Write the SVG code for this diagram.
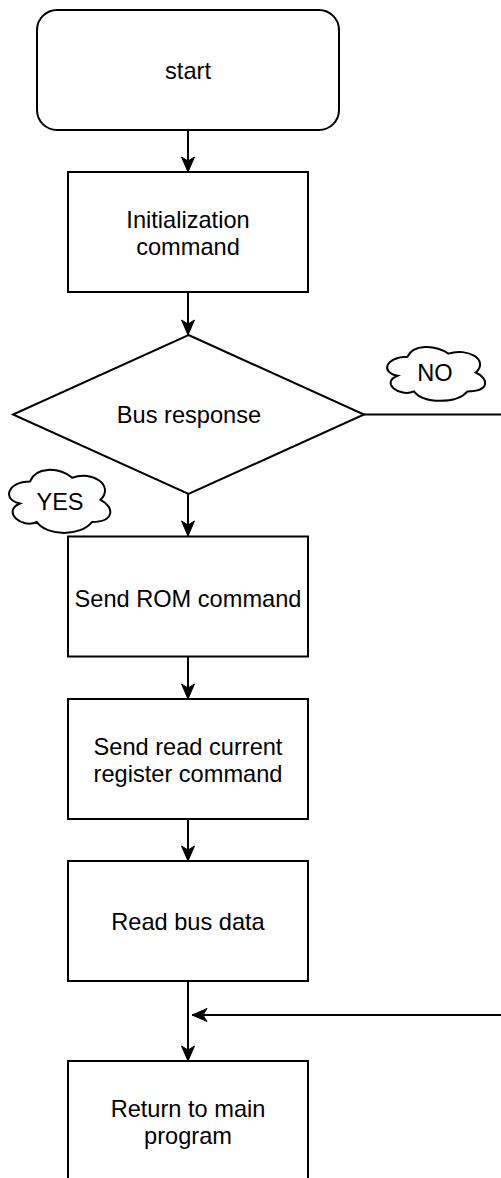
<svg xmlns="http://www.w3.org/2000/svg" width="501" height="1178" viewBox="0 0 501 1178">
<style>
.box{fill:#fff;stroke:#000;stroke-width:2}
.cloud{fill:#fff;stroke:#000;stroke-width:2}
.lbl{font-family:"Liberation Sans",Arial,sans-serif;font-size:23.6px;fill:#000;text-anchor:middle}
.edge{fill:none;stroke:#000;stroke-width:2}
</style>
<defs>
<marker id="arrow" markerUnits="userSpaceOnUse" viewBox="-16 -8 17 16" markerWidth="17" markerHeight="16" refX="0" refY="0" orient="auto">
<path d="M0,0 L-15,-6.5 L-11,0 L-15,6.5 Z" fill="#000" stroke="#000" stroke-width="1" stroke-linejoin="miter"/>
</marker>
<path id="cloudShape" d="M0.25,0.25 C0.05,0.25 0,0.5 0.16,0.55 C0,0.66 0.18,0.9 0.31,0.8 C0.4,1 0.7,1 0.8,0.8 C1,0.8 1,0.6 0.875,0.5 C1,0.3 0.8,0.1 0.625,0.2 C0.5,0.05 0.3,0.05 0.25,0.25 Z"/>
</defs>
<g id="connectors">
<path class="edge" d="M188,130 V172" marker-end="url(#arrow)"/>
<path class="edge" d="M188,292 V335" marker-end="url(#arrow)"/>
<path class="edge" d="M188,494 V536" marker-end="url(#arrow)"/>
<path class="edge" d="M188,656 V699" marker-end="url(#arrow)"/>
<path class="edge" d="M188,819 V861" marker-end="url(#arrow)"/>
<path class="edge" d="M188,981 V1061" marker-end="url(#arrow)"/>
<path class="edge" d="M364,414.5 H530 V1015 H192" marker-end="url(#arrow)"/>
</g>
<g id="start">
<rect class="box" x="37" y="10" width="302" height="120" rx="20" ry="20"/>
<text class="lbl" x="188" y="78.5">start</text>
</g>
<g id="init">
<rect class="box" x="68" y="172" width="240" height="120"/>
<text class="lbl" x="188" y="228">Initialization</text>
<text class="lbl" x="188" y="255">command</text>
</g>
<g id="bus-response">
<path class="box" d="M188.5,335 L364,414.5 L188.5,494 L13,414.5 Z"/>
<text class="lbl" x="189" y="422.5">Bus response</text>
</g>
<g id="no-label">
<path class="cloud" d="M407.4,356.8 C385.5,356.8 380,372.5 397.5,375.7 C380,382.6 399.7,397.7 413.9,391.4 C423.8,404 456.6,404 467.6,391.4 C489.5,391.4 489.5,378.8 475.8,372.5 C489.5,359.9 467.6,347.3 448.4,353.6 C434.7,344.2 412.8,344.2 407.4,356.8 Z"/>
<text class="lbl" x="435" y="381">NO</text>
</g>
<g id="yes-label">
<path class="cloud" d="M30,481.4 C7.4,481.4 1.7,499.8 19.8,503.5 C1.7,511.6 22,529.2 36.7,521.9 C46.9,536.6 80.8,536.6 92.1,521.9 C114.7,521.9 114.7,507.2 100.6,499.8 C114.7,485.1 92.1,470.4 72.3,477.7 C58.2,466.7 35.6,466.7 30,481.4 Z"/>
<text class="lbl" x="60" y="509.5">YES</text>
</g>
<g id="send-rom">
<rect class="box" x="68" y="536.5" width="240" height="120"/>
<text class="lbl" x="188" y="606.5">Send ROM command</text>
</g>
<g id="send-read">
<rect class="box" x="68" y="699" width="240" height="120"/>
<text class="lbl" x="188" y="754.5">Send read current</text>
<text class="lbl" x="188" y="782">register command</text>
</g>
<g id="read-bus">
<rect class="box" x="68" y="861" width="240" height="120"/>
<text class="lbl" x="188" y="929.5">Read bus data</text>
</g>
<g id="return">
<rect class="box" x="68" y="1061" width="240" height="120"/>
<text class="lbl" x="188" y="1116.5">Return to main</text>
<text class="lbl" x="188" y="1144">program</text>
</g>
</svg>
